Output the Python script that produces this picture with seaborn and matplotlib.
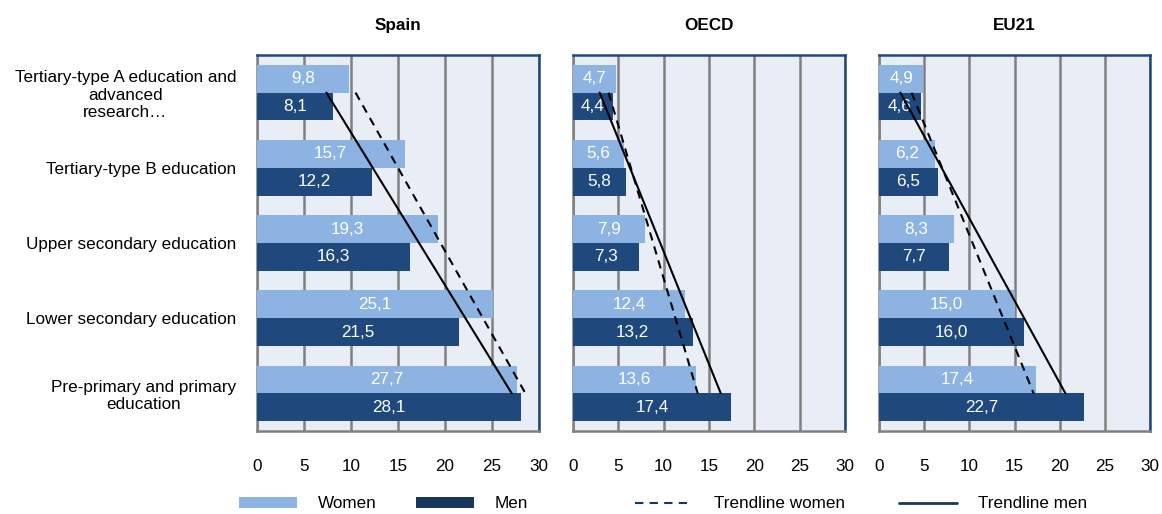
import numpy as np
import pandas as pd
import matplotlib
matplotlib.use("Agg")
import matplotlib.pyplot as plt
import seaborn as sns
from matplotlib.patches import Patch
from matplotlib.lines import Line2D

categories = ["Tertiary-type A education and\nadvanced\nresearch\u2026",
              "Tertiary-type B education",
              "Upper secondary education",
              "Lower secondary education",
              "Pre-primary and primary\neducation"]
panels = ["Spain", "OECD", "EU21"]
women = {"Spain": [9.8, 15.7, 19.3, 25.1, 27.7],
         "OECD": [4.7, 5.6, 7.9, 12.4, 13.6],
         "EU21": [4.9, 6.2, 8.3, 15.0, 17.4]}
men = {"Spain": [8.1, 12.2, 16.3, 21.5, 28.1],
       "OECD": [4.4, 5.8, 7.3, 13.2, 17.4],
       "EU21": [4.6, 6.5, 7.7, 16.0, 22.7]}
xticks = [0, 5, 10, 15, 20, 25, 30]

C_W = "#8db3e2"
C_M = "#1f497d"
C_M_LEG = "#17375e"
BG = "#e9eef6"
FS = 12.3

sns.set_theme(style="white")
plt.rcParams["font.family"] = ["Liberation Sans", "DejaVu Sans"]
plt.rcParams["text.color"] = "black"
plt.rcParams["xtick.color"] = "black"
plt.rcParams["ytick.color"] = "black"

fig = plt.figure(figsize=(11.62, 5.14), dpi=100)
W, H = 1162, 514
boxes = [(257, 539), (573, 845), (879, 1150)]
top, bottom = 55, 431

for i, (name, (x0, x1)) in enumerate(zip(panels, boxes)):
    ax = fig.add_axes([x0 / W, 1 - bottom / H, (x1 - x0) / W, (bottom - top) / H])
    df = pd.DataFrame({
        "cat": categories * 2,
        "value": women[name] + men[name],
        "sex": ["Women"] * 5 + ["Men"] * 5,
    })
    sns.barplot(data=df, y="cat", x="value", hue="sex", order=categories,
                hue_order=["Women", "Men"], palette=[C_W, C_M], orient="h",
                width=0.74, saturation=1, ax=ax, legend=False, zorder=3,
                linewidth=0, edgecolor="none")
    ax.set_facecolor(BG)
    ax.set_xlim(0, 30)
    ax.set_ylim(4.5, -0.5)
    ax.set_xticks(xticks)
    ax.set_xticklabels([str(t) for t in xticks], fontsize=FS)
    ax.grid(axis="x", color="#808080", linewidth=1.8, zorder=0)
    ax.set_axisbelow(True)
    ax.set_xlabel("")
    ax.set_ylabel("")
    ax.tick_params(axis="x", length=0, pad=20)
    ax.tick_params(axis="y", length=0, pad=15)
    if i == 0:
        for lbl in ax.get_yticklabels():
            lbl.set_multialignment("center")
            lbl.set_fontsize(FS)
    else:
        ax.set_yticklabels([])
    for side in ["left", "bottom"]:
        ax.spines[side].set_color("#808080")
        ax.spines[side].set_linewidth(1.8)
    for side in ["top", "right"]:
        ax.spines[side].set_color(C_M)
        ax.spines[side].set_linewidth(1.8)
    ax.set_title(name, fontsize=FS, fontweight="bold", pad=18)

    # value labels
    for cont in ax.containers:
        labels = [f"{b.get_width():.1f}".replace(".", ",") for b in cont]
        ax.bar_label(cont, labels=labels, label_type="center", color="white",
                     fontsize=FS, zorder=5)

    # trendlines (linear fit over categories)
    idx = np.arange(len(categories))
    for vals, ls in [(women[name], (0, (4, 3))), (men[name], "-")]:
        k, b = np.polyfit(idx, vals, 1)
        ax.plot(k * idx[[0, -1]] + b, idx[[0, -1]], color="black", lw=1.5,
                linestyle=ls, zorder=6)

# legend items placed individually
items = [
    (Patch(facecolor=C_W, edgecolor="none"), "Women", 239),
    (Patch(facecolor=C_M_LEG, edgecolor="none"), "Men", 416),
    (Line2D([], [], color=C_M_LEG, lw=1.5, linestyle=(0, (4, 3))), "Trendline women", 635),
    (Line2D([], [], color=C_M_LEG, lw=2.0), "Trendline men", 899),
]
for h, lab, xpx in items:
    fig.legend(handles=[h], labels=[lab], loc="center left",
               bbox_to_anchor=(xpx / W, 1 - 504 / H), frameon=False,
               fontsize=FS, handlelength=3.4, handleheight=0.6,
               handletextpad=1.2, borderaxespad=0, borderpad=0)

fig.savefig("out.png", dpi=100)
